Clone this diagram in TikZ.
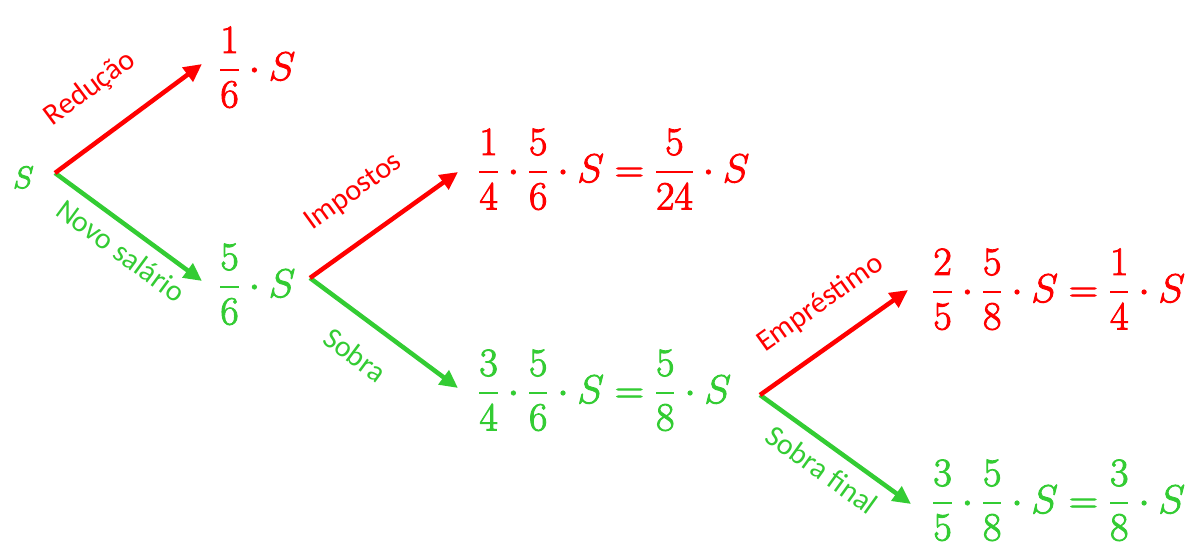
\RequirePackage{fix-cm}
\documentclass[tikz,border=0pt]{standalone}
\usepackage{amsmath}
\usepackage[no-math]{fontspec}
\newfontfamily\lblfont{Carlito}
\usetikzlibrary{arrows.meta}
\definecolor{cred}{RGB}{255,0,0}
\definecolor{cgreen}{RGB}{51,204,51}
\newcommand\heavytext[1]{\special{pdf:literal direct 2 Tr 0.9 w}#1\special{pdf:literal direct 0 Tr}}
\newcommand\fr[2]{\genfrac{}{}{2pt}{0}{#1}{#2}}
\tikzset{
  arr/.style={line width=4.5pt, -{Triangle[length=18pt,width=17pt]}},
  lbl/.style={font=\lblfont\fontsize{30}{36}\selectfont, anchor=base, inner sep=0pt},
  mth/.style={font=\fontsize{40}{48}\selectfont, anchor=base west, inner sep=0pt},
}
\begin{document}
\begin{tikzpicture}[x=1pt,y=-1pt]
\useasboundingbox (0,0) rectangle (1195,545);
% nodes
\node[mth, font=\fontsize{31}{37}\selectfont, text=cgreen] (root) at (13,188) {\heavytext{$S$}};
\node[mth, text=cred]   (n1) at (219,80)  {\heavytext{$\fr{1}{6}\cdot S$}};
\node[mth, text=cgreen] (n2) at (219,297) {\heavytext{$\fr{5}{6}\cdot S$}};
\node[mth, text=cred]   (n3) at (478,182) {\heavytext{$\fr{1}{4}\cdot\fr{5}{6}\cdot S=\fr{5}{24}\cdot S$}};
\node[mth, text=cgreen] (n4) at (478,403) {\heavytext{$\fr{3}{4}\cdot\fr{5}{6}\cdot S=\fr{5}{8}\cdot S$}};
\node[mth, text=cred]   (n5) at (932,302) {\heavytext{$\fr{2}{5}\cdot\fr{5}{8}\cdot S=\fr{1}{4}\cdot S$}};
\node[mth, text=cgreen] (n6) at (932,513) {\heavytext{$\fr{3}{5}\cdot\fr{5}{8}\cdot S=\fr{3}{8}\cdot S$}};
% branch points and tips
\coordinate (b0) at (55,173);
\coordinate (b1) at (310,278);
\coordinate (b2) at (760,395);
\coordinate (t1) at (202,64);
\coordinate (t2) at (202,281);
\coordinate (t3) at (458,172);
\coordinate (t4) at (458,388);
\coordinate (t5) at (908,290);
\coordinate (t6) at (911,504);
% arrows
\draw[arr, cgreen] (b0) -- (t2);
\draw[arr, cred]   (b0) -- (t1);
\draw[arr, cgreen] (b1) -- (t4);
\draw[arr, cred]   (b1) -- (t3);
\draw[arr, cgreen] (b2) -- (t6);
\draw[arr, cred]   (b2) -- (t5);
% labels
\node[lbl, text=cred,   rotate=36.7]  (l1) at (95,95)   {Redução};
\node[lbl, text=cgreen, rotate=-36.4] (l2) at (115,259) {Novo salário};
\node[lbl, text=cred,   rotate=35.8]  (l3) at (358,198) {Impostos};
\node[lbl, text=cgreen, rotate=-36.6] (l4) at (349,363) {Sobra};
\node[lbl, text=cred,   rotate=35.5]  (l5) at (825,310) {Empréstimo};
\node[lbl, text=cgreen, rotate=-35.8] (l6) at (816,478) {Sobra final};
\end{tikzpicture}
\end{document}
